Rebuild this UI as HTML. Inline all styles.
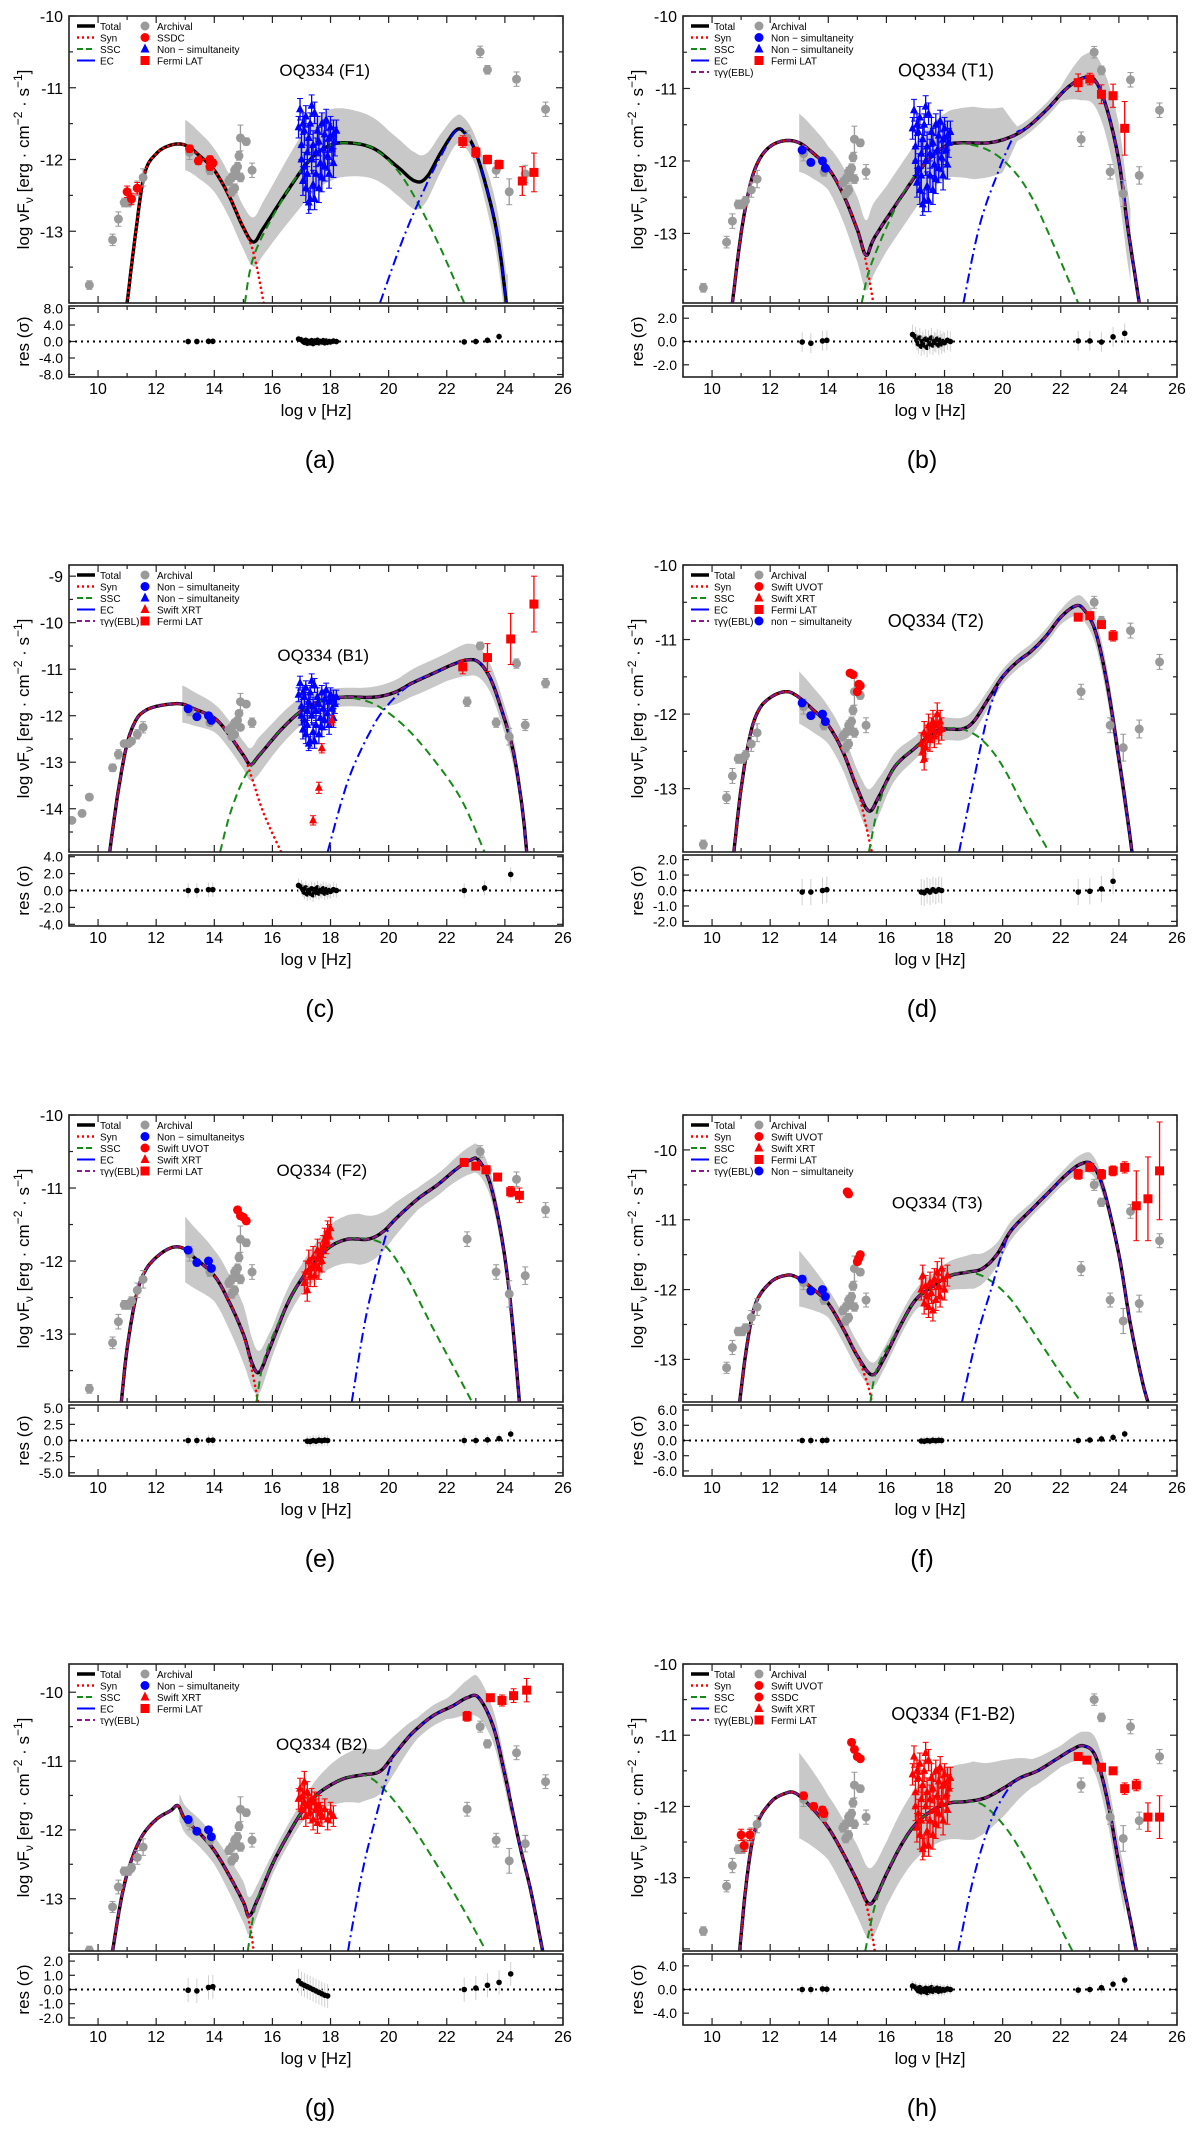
<!DOCTYPE html>
<html><head><meta charset="utf-8">
<style>
html,body{margin:0;padding:0;background:#fff;}
svg{display:block;}
text{font-family:"Liberation Sans",sans-serif;}
</style></head>
<body>
<svg id="fig" xmlns="http://www.w3.org/2000/svg" width="1200" height="2129" viewBox="0 0 1200 2129"></svg>
<script>
// ---------------- DATA ----------------
const archival = [[9.7,-13.75,0.06],[10.5,-13.12,0.08],[10.7,-12.83,0.1],[10.9,-12.6,0.06],[11.05,-12.6,0.06],[11.15,-12.55,0.06],[11.35,-12.4,0.1],[11.55,-12.25,0.12],[13.15,-11.9,0.1],[13.85,-12.15,0.06],[14.5,-12.3,0.06],[14.6,-12.45,0.06],[14.7,-12.4,0.06],[14.6,-12.25,0.06],[14.75,-12.2,0.08],[14.8,-12.1,0.06],[14.85,-11.95,0.06],[14.9,-11.7,0.18],[15.1,-11.75,0.05],[15.3,-12.15,0.1],[14.9,-12.25,0.06],[14.7,-12.15,0.06],[22.7,-11.7,0.1],[23.15,-10.5,0.08],[23.4,-10.75,0.06],[23.7,-12.15,0.1],[24.15,-12.45,0.18],[24.4,-10.88,0.1],[24.7,-12.2,0.12],[25.4,-11.3,0.1]];
const archivalLowC = [[9.1,-14.25,0.06],[9.45,-14.1,0.06]];
const blueCircles = [[13.1,-11.85,0.04],[13.4,-12.02,0.04],[13.8,-12.0,0.04],[13.9,-12.1,0.04]];
const blueXray = [[16.9,-11.55,0.15],[16.95,-11.3,0.15],[17.0,-11.8,0.2],[17.0,-12.0,0.2],[17.05,-12.3,0.2],[17.1,-11.6,0.2],[17.1,-12.1,0.2],[17.15,-11.4,0.15],[17.15,-12.4,0.2],[17.2,-11.9,0.2],[17.2,-12.2,0.2],[17.25,-11.7,0.2],[17.3,-12.55,0.15],[17.3,-11.5,0.15],[17.35,-12.0,0.2],[17.4,-11.8,0.2],[17.4,-12.35,0.2],[17.45,-11.35,0.15],[17.5,-11.9,0.2],[17.5,-12.2,0.2],[17.55,-11.6,0.2],[17.6,-12.4,0.2],[17.6,-11.75,0.2],[17.65,-12.05,0.2],[17.7,-11.5,0.15],[17.7,-12.25,0.2],[17.75,-11.85,0.2],[17.8,-11.65,0.2],[17.8,-12.1,0.2],[17.85,-11.45,0.15],[17.9,-11.95,0.2],[17.95,-11.7,0.2],[17.95,-12.2,0.2],[18.0,-11.55,0.15],[18.05,-11.85,0.2],[18.1,-11.65,0.2],[18.1,-12.05,0.2],[18.15,-11.75,0.2],[18.2,-11.6,0.15],[17.25,-12.6,0.15],[17.45,-12.55,0.15],[17.05,-11.5,0.15],[17.35,-11.25,0.15]];
const ssdcA = [[11.0,-12.45,0.08],[11.15,-12.55,0.08],[11.35,-12.4,0.08],[13.15,-11.85,0.05],[13.45,-12.02,0.05],[13.85,-12.0,0.05],[13.95,-12.05,0.05],[13.85,-12.1,0.05]];
const fermiA = [[22.55,-11.75,0.08],[23.0,-11.9,0.07],[23.4,-12.0,0.06],[23.8,-12.07,0.06],[24.6,-12.3,0.2],[25.0,-12.18,0.27]];
const fermiB = [[22.6,-10.92,0.12],[23.0,-10.87,0.08],[23.4,-11.08,0.13],[23.8,-11.1,0.16],[24.2,-11.55,0.37]];
const xrtC = [[17.4,-14.25,0.1],[17.6,-13.55,0.12],[17.7,-12.7,0.1],[18.05,-12.1,0.1]];
const fermiC = [[22.55,-10.95,0.15],[23.4,-10.75,0.3],[24.2,-10.35,0.55],[25.0,-9.6,0.6]];
const uvotD = [[14.75,-11.45,0.03],[14.85,-11.47,0.03],[15.05,-11.6,0.03],[15.1,-11.62,0.03],[15.0,-11.7,0.03]];
const xrtD = [[17.2,-12.4,0.15],[17.25,-12.5,0.15],[17.3,-12.25,0.15],[17.35,-12.45,0.15],[17.4,-12.3,0.15],[17.45,-12.15,0.15],[17.5,-12.35,0.15],[17.55,-12.2,0.15],[17.6,-12.1,0.15],[17.65,-12.3,0.15],[17.7,-12.15,0.15],[17.75,-12.0,0.15],[17.8,-12.25,0.15],[17.85,-12.1,0.15],[17.9,-12.2,0.15],[17.3,-12.6,0.15]];
const fermiD = [[22.6,-10.7,0.05],[23.0,-10.68,0.05],[23.4,-10.8,0.05],[23.8,-10.95,0.07]];
const uvotE = [[14.8,-11.3,0.03],[14.9,-11.38,0.03],[15.0,-11.4,0.03],[15.1,-11.45,0.03]];
const xrtE = [[17.1,-12.3,0.15],[17.15,-12.15,0.15],[17.2,-12.4,0.15],[17.25,-12.0,0.15],[17.3,-12.2,0.15],[17.35,-12.1,0.15],[17.4,-11.95,0.15],[17.45,-12.2,0.15],[17.5,-12.05,0.15],[17.55,-11.85,0.15],[17.6,-12.1,0.15],[17.65,-11.9,0.15],[17.7,-12.0,0.15],[17.75,-11.8,0.15],[17.8,-11.7,0.15],[17.85,-11.75,0.15],[17.9,-11.6,0.15],[17.95,-11.65,0.15],[18.0,-11.55,0.15]];
const fermiE = [[22.6,-10.65,0.05],[23.0,-10.7,0.05],[23.35,-10.75,0.05],[23.75,-10.85,0.05],[24.2,-11.05,0.07],[24.5,-11.1,0.1]];
const uvotF = [[14.65,-10.6,0.03],[14.7,-10.63,0.03],[15.0,-11.6,0.03],[15.05,-11.55,0.03],[15.1,-11.5,0.03]];
const xrtF = [[17.2,-12.0,0.15],[17.25,-11.8,0.15],[17.3,-12.2,0.15],[17.35,-11.95,0.15],[17.4,-12.1,0.15],[17.45,-12.25,0.15],[17.5,-11.9,0.15],[17.55,-12.05,0.15],[17.6,-12.3,0.15],[17.65,-11.85,0.15],[17.7,-12.15,0.15],[17.75,-11.75,0.15],[17.8,-11.95,0.15],[17.85,-12.1,0.15],[17.9,-11.7,0.15],[17.95,-11.85,0.15],[18.0,-12.0,0.15],[18.1,-11.8,0.15]];
const fermiF = [[22.6,-10.35,0.07],[23.0,-10.25,0.05],[23.4,-10.35,0.07],[23.8,-10.3,0.07],[24.2,-10.25,0.08],[24.6,-10.8,0.5],[25.0,-10.7,0.6],[25.4,-10.3,0.7]];
const xrtG = [[16.9,-11.55,0.15],[16.95,-11.4,0.15],[17.0,-11.7,0.15],[17.05,-11.5,0.15],[17.1,-11.6,0.15],[17.15,-11.8,0.15],[17.2,-11.45,0.15],[17.25,-11.65,0.15],[17.3,-11.75,0.15],[17.35,-11.55,0.15],[17.4,-11.85,0.15],[17.45,-11.6,0.15],[17.5,-11.7,0.15],[17.55,-11.9,0.15],[17.6,-11.65,0.15],[17.65,-11.75,0.15],[17.7,-11.8,0.15],[17.8,-11.7,0.15],[17.9,-11.85,0.15],[18.0,-11.75,0.15],[18.1,-11.8,0.15],[17.1,-11.3,0.15]];
const fermiG = [[22.7,-10.35,0.07],[23.5,-10.08,0.05],[23.9,-10.12,0.08],[24.3,-10.05,0.1],[24.75,-9.97,0.17]];
const uvotH = [[14.8,-11.1,0.04],[14.9,-11.2,0.04],[15.0,-11.3,0.04],[15.1,-11.33,0.04]];
const ssdcH = [[11.0,-12.4,0.08],[11.1,-12.55,0.08],[11.3,-12.4,0.08],[13.15,-11.85,0.05],[13.5,-12.0,0.05],[13.8,-12.05,0.05],[13.85,-12.1,0.05]];
const fermiH = [[22.6,-11.3,0.05],[22.9,-11.35,0.05],[23.4,-11.45,0.05],[23.8,-11.5,0.05],[24.2,-11.75,0.08],[24.6,-11.7,0.08],[25.0,-12.15,0.2],[25.4,-12.15,0.3]];

const totalA = [[11.0,-14],[11.3,-13.0],[11.6,-12.2],[12.0,-11.92],[12.5,-11.8],[13.0,-11.8],[13.5,-11.95],[14.0,-12.15],[14.5,-12.5],[15.0,-12.95],[15.35,-13.15],[15.7,-12.95],[16.5,-12.45],[17.3,-12.0],[18.0,-11.8],[18.7,-11.77],[19.5,-11.85],[20.3,-12.1],[20.9,-12.3],[21.3,-12.25],[21.8,-11.9],[22.3,-11.6],[22.6,-11.62],[23.0,-11.9],[23.5,-12.6],[23.8,-13.2],[24.05,-14]];
const totalB = [[10.7,-13.96],[11.0,-13.0],[11.3,-12.35],[11.6,-12.0],[12.0,-11.8],[12.5,-11.72],[13.0,-11.75],[13.5,-11.9],[14.0,-12.1],[14.5,-12.45],[15.0,-12.95],[15.3,-13.3],[15.6,-13.05],[16.5,-12.5],[17.3,-12.05],[18.0,-11.8],[18.5,-11.75],[19.5,-11.75],[20.2,-11.68],[20.8,-11.55],[21.5,-11.3],[22.2,-11.0],[22.8,-10.85],[23.2,-10.9],[23.6,-11.3],[24.0,-12.0],[24.3,-12.9],[24.7,-13.96]];
const totalC = [[10.4,-14.93],[10.7,-13.6],[11.0,-12.6],[11.3,-12.1],[11.6,-11.9],[12.0,-11.8],[12.5,-11.75],[12.9,-11.75],[13.3,-11.85],[14.0,-12.05],[14.5,-12.4],[15.0,-12.85],[15.25,-13.05],[15.55,-12.85],[16.3,-12.3],[17.0,-11.9],[17.8,-11.65],[18.5,-11.6],[19.5,-11.6],[20.2,-11.5],[20.8,-11.3],[21.5,-11.1],[22.2,-10.9],[22.7,-10.8],[23.1,-10.85],[23.5,-11.2],[23.9,-11.9],[24.3,-12.8],[24.6,-14.0],[24.75,-14.93]];
const totalD = [[10.75,-13.85],[11.0,-13.0],[11.3,-12.3],[11.6,-11.95],[12.0,-11.78],[12.5,-11.7],[12.9,-11.75],[13.5,-11.95],[14.0,-12.15],[14.5,-12.5],[15.0,-13.0],[15.4,-13.3],[15.75,-13.1],[16.3,-12.7],[17.0,-12.45],[17.6,-12.25],[18.0,-12.2],[18.6,-12.2],[19.0,-12.1],[19.5,-11.8],[20.0,-11.5],[20.5,-11.3],[21.0,-11.15],[21.5,-10.95],[22.0,-10.7],[22.5,-10.55],[22.8,-10.6],[23.2,-10.9],[23.6,-11.6],[24.0,-12.6],[24.3,-13.4],[24.45,-13.85]];
const totalE = [[10.8,-13.93],[11.0,-13.2],[11.3,-12.5],[11.6,-12.15],[12.0,-11.95],[12.5,-11.82],[12.9,-11.82],[13.3,-11.95],[14.0,-12.2],[14.5,-12.55],[15.0,-13.0],[15.3,-13.4],[15.55,-13.52],[15.9,-13.2],[16.5,-12.6],[17.0,-12.25],[17.5,-12.0],[18.0,-11.8],[18.6,-11.7],[19.3,-11.7],[19.8,-11.6],[20.3,-11.4],[21.0,-11.15],[21.7,-10.95],[22.3,-10.75],[22.8,-10.62],[23.1,-10.62],[23.5,-10.95],[23.9,-11.7],[24.2,-12.6],[24.5,-13.93]];
const totalF = [[10.95,-13.61],[11.2,-12.8],[11.5,-12.2],[12.0,-11.9],[12.5,-11.8],[12.9,-11.82],[13.5,-12.0],[14.0,-12.2],[14.5,-12.55],[15.0,-12.95],[15.5,-13.22],[15.9,-13.0],[16.5,-12.5],[17.0,-12.15],[17.6,-11.95],[18.2,-11.8],[18.8,-11.75],[19.3,-11.7],[19.8,-11.5],[20.3,-11.15],[21.0,-10.85],[21.6,-10.6],[22.2,-10.35],[22.7,-10.2],[23.1,-10.22],[23.5,-10.6],[24.0,-11.5],[24.4,-12.5],[24.8,-13.3],[25.0,-13.61]];
const totalG = [[10.5,-13.76],[10.8,-13.0],[11.1,-12.5],[11.5,-12.1],[12.0,-11.85],[12.5,-11.72],[12.75,-11.65],[13.0,-11.85],[13.5,-12.05],[14.0,-12.3],[14.5,-12.65],[15.0,-13.05],[15.2,-13.25],[15.5,-13.0],[16.0,-12.5],[16.5,-12.1],[17.0,-11.75],[17.5,-11.5],[18.0,-11.35],[18.5,-11.25],[19.1,-11.2],[19.7,-11.15],[20.2,-10.9],[20.8,-10.6],[21.5,-10.35],[22.2,-10.2],[22.7,-10.08],[23.1,-10.08],[23.6,-10.5],[24.0,-11.2],[24.5,-12.2],[24.9,-12.9],[25.3,-13.76]];
const totalH = [[10.95,-14.03],[11.2,-13.0],[11.5,-12.3],[12.0,-11.95],[12.5,-11.82],[12.9,-11.82],[13.5,-12.05],[14.0,-12.3],[14.5,-12.65],[15.0,-13.05],[15.35,-13.35],[15.6,-13.3],[16.0,-12.95],[16.5,-12.55],[17.0,-12.25],[17.6,-12.05],[18.2,-11.95],[18.8,-11.93],[19.4,-11.88],[20.0,-11.75],[20.6,-11.6],[21.2,-11.5],[21.8,-11.35],[22.4,-11.2],[22.8,-11.15],[23.2,-11.3],[23.6,-11.9],[24.0,-12.8],[24.4,-13.6],[24.6,-14.03]];

const synTailA=[[15.35,-13.3],[15.7,-14]], sscHeadA=[[15.05,-14],[15.4,-13.3]], sscTailA=[[20.3,-12.15],[21.0,-12.6],[21.8,-13.25],[22.6,-14]], ecHeadA=[[19.7,-14],[20.5,-13.1],[21.3,-12.35],[21.8,-11.95]];
const synTailB=[[15.3,-13.4],[15.55,-13.96]], sscHeadB=[[15.15,-13.96],[15.5,-13.4]], sscTailB=[[19.5,-11.85],[20.3,-12.1],[21.0,-12.5],[21.8,-13.2],[22.6,-13.96]], ecHeadB=[[18.65,-13.96],[19.2,-12.9],[19.8,-12.2],[20.4,-11.65]];
const synTailC=[[15.3,-13.35],[15.7,-14.1],[16.3,-14.93]], sscHeadC=[[14.2,-14.93],[14.6,-14.0],[15.2,-13.15]], sscTailC=[[19.5,-11.75],[20.5,-12.2],[21.5,-12.9],[22.5,-13.8],[23.3,-14.93]], ecHeadC=[[17.9,-14.93],[18.6,-13.4],[19.4,-12.3],[20.0,-11.75]];
const synTailD=[[15.3,-13.5],[15.5,-13.85]], sscHeadD=[[15.4,-13.85],[15.75,-13.2]], sscTailD=[[19.3,-12.35],[20.0,-12.7],[20.8,-13.3],[21.6,-13.85]], ecHeadD=[[18.5,-13.85],[19.0,-12.9],[19.5,-12.0]];
const synTailE=[[15.35,-13.6],[15.5,-13.93]], sscHeadE=[[15.45,-13.93],[15.75,-13.3]], sscTailE=[[19.9,-11.8],[20.6,-12.2],[21.5,-12.9],[22.3,-13.5],[22.87,-13.93]], ecHeadE=[[18.73,-13.93],[19.2,-12.8],[19.7,-11.95],[20.0,-11.55]];
const synTailF=[[15.35,-13.35],[15.5,-13.61]], sscHeadF=[[15.45,-13.61],[15.7,-13.1]], sscTailF=[[19.5,-11.85],[20.3,-12.15],[21.2,-12.7],[22.0,-13.2],[22.7,-13.61]], ecHeadF=[[18.6,-13.61],[19.1,-12.7],[19.6,-12.0],[20.0,-11.45]];
const synTailG=[[15.25,-13.45],[15.35,-13.76]], sscHeadG=[[15.15,-13.76],[15.45,-13.05]], sscTailG=[[19.7,-11.35],[20.5,-11.75],[21.5,-12.4],[22.5,-13.1],[23.35,-13.76]], ecHeadG=[[18.6,-13.76],[19.1,-12.6],[19.6,-11.75],[20.0,-11.15]];
const synTailH=[[15.35,-13.45],[15.6,-14.03]], sscHeadH=[[15.27,-14.03],[15.6,-13.4]], sscTailH=[[19.4,-12.0],[20.2,-12.35],[21.0,-12.9],[21.8,-13.55],[22.4,-14.03]], ecHeadH=[[18.47,-14.03],[19.0,-13.0],[19.6,-12.2],[20.2,-11.75]];

const bandA=[[13,0.35],[14,0.3],[15,0.3],[15.4,0.35],[16,0.4],[17,0.5],[18,0.5],[19,0.45],[20,0.4],[20.9,0.4],[21.5,0.3],[22.3,0.2],[23,0.2],[24,0.4],[24.1,0.4]];
const bandB=[[13,0.4],[14,0.3],[15,0.45],[15.5,0.5],[16,0.45],[17,0.45],[18,0.45],[19,0.5],[20,0.45],[20.5,0.1],[21,0.1],[22,0.1],[22.7,0.3],[23.5,0.4],[24,0.5],[24.4,0.5]];
const bandC=[[12.9,0.4],[14,0.3],[15,0.3],[15.5,0.4],[16,0.35],[17,0.3],[18,0.2],[19,0.2],[20,0.25],[21,0.3],[22,0.3],[22.7,0.35],[23.5,0.3],[24,0.3],[24.4,0.3]];
const bandD=[[13,0.35],[14,0.25],[15,0.25],[15.5,0.3],[16,0.2],[17,0.15],[18,0.15],[19,0.15],[20,0.1],[21,0.1],[22,0.1],[22.8,0.15],[23.5,0.2],[24,0.2],[24.3,0.2]];
const bandE=[[13,0.45],[14,0.35],[15,0.4],[15.5,0.3],[16,0.2],[17,0.2],[18,0.3],[19,0.35],[20,0.25],[21,0.15],[22,0.15],[23,0.2],[24,0.15],[24.4,0.15]];
const bandF=[[13,0.4],[14,0.2],[15,0.2],[16,0.15],[17,0.15],[18,0.2],[19,0.25],[20,0.15],[21,0.1],[22,0.1],[23,0.15],[24,0.1],[24.2,0.1]];
const bandG=[[12.8,0.2],[14,0.2],[15,0.3],[16,0.15],[17,0.15],[18,0.3],[19,0.4],[20,0.3],[21,0.15],[22,0.15],[23,0.3],[24,0.2],[24.2,0.2]];
const bandH=[[13,0.6],[14,0.45],[15,0.5],[15.5,0.5],[16,0.45],[17,0.5],[18,0.5],[19,0.55],[20,0.4],[21,0.2],[22,0.15],[22.8,0.2],[23.5,0.3],[24,0.3],[24.2,0.3]];

const resCluster = [[16.9,0.6],[17.0,0.4],[17.05,0.1],[17.1,-0.2],[17.15,0.3],[17.2,-0.4],[17.25,0.0],[17.3,-0.3],[17.35,0.2],[17.4,-0.5],[17.45,0.1],[17.5,-0.2],[17.55,0.3],[17.6,-0.3],[17.65,0.0],[17.7,-0.1],[17.75,0.2],[17.8,-0.3],[17.85,0.1],[17.9,-0.2],[17.95,0.0],[18.0,-0.1],[18.1,0.1],[18.2,0.0]];
const resXrtSmall = [[17.2,-0.1],[17.3,-0.15],[17.4,0],[17.5,-0.1],[17.6,0.05],[17.7,-0.05],[17.8,0.05],[17.9,0]];
const resXrtG = [[16.9,0.6],[17.0,0.4],[17.1,0.3],[17.2,0.2],[17.3,0.1],[17.4,0.0],[17.5,-0.1],[17.6,-0.2],[17.7,-0.3],[17.8,-0.4],[17.9,-0.45]];
const resA=[[13.1,0],[13.4,0],[13.8,0.05],[13.95,0.05],[22.6,-0.1],[23.0,0],[23.4,0.3],[23.8,1.2]];
const resB=[[13.1,-0.05],[13.4,-0.15],[13.8,0.05],[13.95,0.1],[22.6,0.05],[23.0,0.05],[23.4,-0.05],[23.8,0.4],[24.2,0.7]];
const resC=[[13.1,0],[13.4,0],[13.8,0.1],[13.95,0.1],[22.6,0.0],[23.3,0.3],[24.2,1.9]];
const resD=[[13.1,-0.1],[13.4,-0.1],[13.8,0.0],[13.95,0.05],[22.6,-0.1],[23.0,-0.05],[23.4,0.1],[23.8,0.6]];
const resE=[[13.1,0],[13.4,0],[13.8,0.05],[13.95,0.05],[22.6,0],[23.0,0],[23.4,0.1],[23.8,0.3],[24.2,1.0]];
const resF=[[13.1,0],[13.4,0],[13.8,0],[13.95,0.05],[22.6,0],[23.0,0.1],[23.4,0.3],[23.8,0.6],[24.2,1.3]];
const resG=[[13.1,-0.05],[13.4,-0.1],[13.8,0.15],[13.95,0.2],[22.6,0],[23.0,0.1],[23.4,0.3],[23.8,0.5],[24.2,1.1]];
const resH=[[13.1,0],[13.4,0],[13.8,0.1],[13.95,0.05],[22.6,-0.1],[23.0,0],[23.4,0.3],[23.8,0.9],[24.2,1.6]];

const xTickLabels = [10,12,14,16,18,20,22,24,26];

// ---------------- RENDER ----------------
const NS="http://www.w3.org/2000/svg";
const svg=document.getElementById('fig');
function el(tag,attrs,parent){const e=document.createElementNS(NS,tag);for(const k in attrs)e.setAttribute(k,attrs[k]);(parent||svg).appendChild(e);return e;}
function spline(k){const out=[];if(k.length<2)return k.slice();for(let i=0;i<k.length-1;i++){const p0=k[i-1]||k[i],p1=k[i],p2=k[i+1],p3=k[i+2]||k[i+1];for(let s=0;s<12;s++){const t=s/12,t2=t*t,t3=t2*t;const f=(a,b,c,d)=>0.5*((2*b)+(-a+c)*t+(2*a-5*b+4*c-d)*t2+(-a+3*b-3*c+d)*t3);out.push([f(p0[0],p1[0],p2[0],p3[0]),f(p0[1],p1[1],p2[1],p3[1])]);}}out.push(k[k.length-1]);return out;}
function interp(arr,x){if(x<=arr[0][0])return arr[0][1];for(let i=0;i<arr.length-1;i++){if(x>=arr[i][0]&&x<=arr[i+1][0]){const t=(x-arr[i][0])/((arr[i+1][0]-arr[i][0])||1);return arr[i][1]+t*(arr[i+1][1]-arr[i][1]);}}return arr[arr.length-1][1];}

const panels=[
 {id:'a',col:0,row:0,ymin:-14,ymax:-10,rmax:8.6,rt:[8,4,0,-4,-8],title:'OQ334 (F1)',tx:17.8,ty:-10.75,serif:true,ebl:false,total:totalA,synCut:15.0,synTail:synTailA,sscHead:sscHeadA,sscMid:[16.5,19.5],sscTail:sscTailA,ecHead:ecHeadA,ecCut:22.3,band:bandA,
  series:[{d:archival,s:'c',c:'#9a9a9a',l:'Archival'},{d:ssdcA,s:'c',c:'#ff0000',l:'SSDC'},{d:blueXray,s:'t',c:'#0000ff',l:'Non \u2212 simultaneity'},{d:fermiA,s:'s',c:'#ff0000',l:'Fermi LAT'}],res:[resA,resCluster]},
 {id:'b',col:1,row:0,ymin:-13.96,ymax:-10,rmax:3.05,rt:[2,0,-2],title:'OQ334 (T1)',tx:18.05,ty:-10.75,serif:false,ebl:true,total:totalB,synCut:15.0,synTail:synTailB,sscHead:sscHeadB,sscMid:[16.5,18.5],sscTail:sscTailB,ecHead:ecHeadB,ecCut:20.8,band:bandB,
  series:[{d:archival,s:'c',c:'#9a9a9a',l:'Archival'},{d:blueCircles,s:'c',c:'#0000ff',l:'Non \u2212 simultaneity'},{d:blueXray,s:'t',c:'#0000ff',l:'Non \u2212 simultaneity'},{d:fermiB,s:'s',c:'#ff0000',l:'Fermi LAT'}],res:[resB,resCluster]},
 {id:'c',col:0,row:1,ymin:-14.93,ymax:-8.76,rmax:4.2,rt:[4,2,0,-2,-4],title:'OQ334 (B1)',tx:17.75,ty:-10.7,serif:true,ebl:true,total:totalC,synCut:15.0,synTail:synTailC,sscHead:sscHeadC,sscMid:[16.3,18.5],sscTail:sscTailC,ecHead:ecHeadC,ecCut:20.8,band:bandC,
  series:[{d:archival.concat(archivalLowC),s:'c',c:'#9a9a9a',l:'Archival'},{d:blueCircles,s:'c',c:'#0000ff',l:'Non \u2212 simultaneity'},{d:blueXray,s:'t',c:'#0000ff',l:'Non \u2212 simultaneity'},{d:xrtC,s:'t',c:'#ff0000',l:'Swift XRT'},{d:fermiC,s:'s',c:'#ff0000',l:'Fermi LAT'}],res:[resC,resCluster]},
 {id:'d',col:1,row:1,ymin:-13.85,ymax:-10,rmax:2.3,rt:[2,1,0,-1,-2],title:'OQ334 (T2)',tx:17.7,ty:-10.75,serif:false,ebl:true,total:totalD,synCut:15.0,synTail:synTailD,sscHead:sscHeadD,sscMid:[16.3,18.6],sscTail:sscTailD,ecHead:ecHeadD,ecCut:20.0,band:bandD,
  series:[{d:archival,s:'c',c:'#9a9a9a',l:'Archival'},{d:uvotD,s:'c',c:'#ff0000',l:'Swift UVOT'},{d:xrtD,s:'t',c:'#ff0000',l:'Swift XRT'},{d:fermiD,s:'s',c:'#ff0000',l:'Fermi LAT'},{d:blueCircles,s:'c',c:'#0000ff',l:'non \u2212 simultaneity'}],res:[resD,resXrtSmall]},
 {id:'e',col:0,row:2,ymin:-13.93,ymax:-10,rmax:5.5,rt:[5,2.5,0,-2.5,-5],title:'OQ334 (F2)',tx:17.7,ty:-10.75,serif:true,ebl:true,total:totalE,synCut:15.0,synTail:synTailE,sscHead:sscHeadE,sscMid:[16.5,19.3],sscTail:sscTailE,ecHead:ecHeadE,ecCut:20.3,band:bandE,
  series:[{d:archival,s:'c',c:'#9a9a9a',l:'Archival'},{d:blueCircles,s:'c',c:'#0000ff',l:'Non \u2212 simultaneitys'},{d:uvotE,s:'c',c:'#ff0000',l:'Swift UVOT'},{d:xrtE,s:'t',c:'#ff0000',l:'Swift XRT'},{d:fermiE,s:'s',c:'#ff0000',l:'Fermi LAT'}],res:[resE,resXrtSmall]},
 {id:'f',col:1,row:2,ymin:-13.61,ymax:-9.5,rmax:7,rt:[6,3,0,-3,-6],title:'OQ334 (T3)',tx:17.75,ty:-10.75,serif:true,ebl:true,total:totalF,synCut:15.0,synTail:synTailF,sscHead:sscHeadF,sscMid:[16.5,18.8],sscTail:sscTailF,ecHead:ecHeadF,ecCut:20.3,band:bandF,
  series:[{d:archival,s:'c',c:'#9a9a9a',l:'Archival'},{d:uvotF,s:'c',c:'#ff0000',l:'Swift UVOT'},{d:xrtF,s:'t',c:'#ff0000',l:'Swift XRT'},{d:fermiF,s:'s',c:'#ff0000',l:'Fermi LAT'},{d:blueCircles,s:'c',c:'#0000ff',l:'Non \u2212 simultaneity'}],res:[resF,resXrtSmall]},
 {id:'g',col:0,row:3,ymin:-13.76,ymax:-9.59,rmax:2.5,rt:[2,1,0,-1,-2],title:'OQ334 (B2)',tx:17.7,ty:-10.75,serif:true,ebl:true,total:totalG,synCut:15.0,synTail:synTailG,sscHead:sscHeadG,sscMid:[16.0,19.1],sscTail:sscTailG,ecHead:ecHeadG,ecCut:20.2,band:bandG,
  series:[{d:archival,s:'c',c:'#9a9a9a',l:'Archival'},{d:blueCircles,s:'c',c:'#0000ff',l:'Non \u2212 simultaneity'},{d:xrtG,s:'t',c:'#ff0000',l:'Swift XRT'},{d:fermiG,s:'s',c:'#ff0000',l:'Fermi LAT'}],res:[resG,resXrtG]},
 {id:'h',col:1,row:3,ymin:-14.03,ymax:-10,rmax:6,rt:[4,0,-4],title:'OQ334 (F1-B2)',tx:18.3,ty:-10.7,serif:false,ebl:true,total:totalH,synCut:15.0,synTail:synTailH,sscHead:sscHeadH,sscMid:[16.0,18.8],sscTail:sscTailH,ecHead:ecHeadH,ecCut:20.6,band:bandH,
  series:[{d:archival,s:'c',c:'#9a9a9a',l:'Archival'},{d:uvotH,s:'c',c:'#ff0000',l:'Swift UVOT'},{d:ssdcH,s:'c',c:'#ff0000',l:'SSDC'},{d:blueXray,s:'t',c:'#ff0000',l:'Swift XRT'},{d:fermiH,s:'s',c:'#ff0000',l:'Fermi LAT'}],res:[resH,resCluster]}
];

const COLX=[69,683], ROWY=[16,565,1115,1664], PW=494, MH=287, RT=290, RB=361;

function marker(g,shape,color,px,py,r){
  if(shape==='c') return el('circle',{cx:px,cy:py,r:r,fill:color},g);
  if(shape==='s') return el('rect',{x:px-r,y:py-r,width:2*r,height:2*r,fill:color},g);
  return el('polygon',{points:`${px},${py-r-1} ${px-r},${py+r-1} ${px+r},${py+r-1}`,fill:color},g);
}

panels.forEach(P=>{
  const x0=COLX[P.col], T=ROWY[P.row], x1=x0+PW, yb=T+MH;
  const X=v=>x0+(v-9)/17*PW;
  const Y=v=>T+(P.ymax-v)/(P.ymax-P.ymin)*MH;
  const RY=v=>T+RT+(P.rmax-v)/(2*P.rmax)*(RB-RT);
  const g=el('g',{});
  
  
  const cid='clip'+P.id;
  const cp=el('clipPath',{id:cid},g); el('rect',{x:x0,y:T,width:PW,height:MH},cp);
  const rc=el('clipPath',{id:cid+'r'},g); el('rect',{x:x0,y:T+RT,width:PW,height:RB-RT},rc);
  const pg=el('g',{'clip-path':`url(#${cid})`},g);
  const td=spline(P.total);
  const bs=P.band[0][0], be=P.band[P.band.length-1][0];
  let up=[],lo=[];
  for(let x=bs;x<=be+1e-6;x+=0.05){const yc=interp(td,x),w=interp(P.band,x);up.push(`${X(x).toFixed(1)},${Y(yc+w).toFixed(1)}`);lo.unshift(`${X(x).toFixed(1)},${Y(yc-w).toFixed(1)}`);}
  const band=el('polygon',{points:up.concat(lo).join(' '),fill:'#c8c8c8'},pg);
  
  
  const path=(k)=>spline(k).map((p,i)=>(i?'L':'M')+X(p[0]).toFixed(1)+','+Y(p[1]).toFixed(1)).join('');
  const synK=P.total.filter(k=>k[0]<=P.synCut).concat(P.synTail);
  const sscK=P.sscHead.concat(P.total.filter(k=>k[0]>=P.sscMid[0]&&k[0]<=P.sscMid[1])).concat(P.sscTail);
  const ecK=P.ecHead.concat(P.total.filter(k=>k[0]>=P.ecCut));
  const tl=el('path',{d:path(P.total),fill:'none',stroke:'#000','stroke-width':3.4},pg);
  
  
  const sy=el('path',{d:path(synK),fill:'none',stroke:'#ff0000','stroke-width':2.6,'stroke-dasharray':'0.1,5','stroke-linecap':'round'},pg);
  
  
  const ss=el('path',{d:path(sscK),fill:'none',stroke:'#168a16','stroke-width':2,'stroke-dasharray':'8,5'},pg);
  
  
  const ec=el('path',{d:path(ecK),fill:'none',stroke:'#0000ff','stroke-width':2,'stroke-dasharray':'10,4,2,4'},pg);
  
  
  if(P.ebl){const eb=el('path',{d:path(P.total),fill:'none',stroke:'#8b1a8b','stroke-width':2.2,'stroke-dasharray':'6,3'},pg);
    
    }
  P.series.forEach((S,si)=>{
    const sg=el('g',{},pg);
    
    
    S.d.forEach(p=>{
      const px=X(p[0]),py=Y(p[1]),e=p[2]||0.05;
      el('line',{x1:px,x2:px,y1:Y(p[1]+e),y2:Y(p[1]-e),stroke:S.c,'stroke-width':1.3},sg);
      el('line',{x1:px-3,x2:px+3,y1:Y(p[1]+e),y2:Y(p[1]+e),stroke:S.c,'stroke-width':1},sg);
      el('line',{x1:px-3,x2:px+3,y1:Y(p[1]-e),y2:Y(p[1]-e),stroke:S.c,'stroke-width':1},sg);
      const m=marker(sg,S.s,S.c,px,py,S.s==='s'?4.5:(S.s==='t'?4:4.5));
      
      
    });
  });
  const fr=el('rect',{x:x0,y:T,width:PW,height:MH,fill:'none',stroke:'#222','stroke-width':1.6},g);
  
  
  const rf=el('rect',{x:x0,y:T+RT,width:PW,height:RB-RT,fill:'none',stroke:'#222','stroke-width':1.6},g);
  
  
  for(let v=9;v<=26;v++){const px=X(v),L=(v%2===0)?7:4;
    [[T,T+L],[yb,yb-L],[T+RT,T+RT+L],[T+RB,T+RB-L]].forEach(a=>el('line',{x1:px,x2:px,y1:a[0],y2:a[1],stroke:'#222','stroke-width':1.2},g));}
  xTickLabels.forEach(v=>{const t=el('text',{x:X(v),y:T+378,'font-size':16,'text-anchor':'middle'},g);t.textContent=v;
    
    });
  for(let v=Math.ceil(P.ymin*2)/2;v<=P.ymax+1e-6;v+=0.5){const py=Y(v),L=Number.isInteger(v)?7:4;
    el('line',{x1:x0,x2:x0+L,y1:py,y2:py,stroke:'#222','stroke-width':1.2},g);
    el('line',{x1:x1,x2:x1-L,y1:py,y2:py,stroke:'#222','stroke-width':1.2},g);
    if(Number.isInteger(v)&&py<yb-4){const t=el('text',{x:x0-6,y:py+6,'font-size':16,'text-anchor':'end'},g);t.textContent=String(v);
      
      }}
  P.rt.forEach(v=>{const py=RY(v);
    el('line',{x1:x0,x2:x0+6,y1:py,y2:py,stroke:'#222','stroke-width':1.2},g);
    el('line',{x1:x1,x2:x1-6,y1:py,y2:py,stroke:'#222','stroke-width':1.2},g);
    const t=el('text',{x:x0-6,y:py+5,'font-size':14,'text-anchor':'end'},g);t.textContent=v.toFixed(1);
    
    });
  const rg=el('g',{'clip-path':`url(#${cid}r)`},g);
  el('line',{x1:x0,x2:x1,y1:RY(0),y2:RY(0),stroke:'#000','stroke-width':2,'stroke-dasharray':'2,4'},rg);
  P.res.forEach(arr=>arr.forEach(p=>{const px=X(p[0]),py=RY(p[1]);
    el('line',{x1:px,x2:px,y1:RY(p[1]+0.85),y2:RY(p[1]-0.85),stroke:'#d0d0d0','stroke-width':1},rg);
    const c=el('circle',{cx:px,cy:py,r:2.8,fill:'#000'},rg);
    
    }));
  const yl=el('text',{x:0,y:0,'font-size':17,'text-anchor':'middle',transform:`translate(${x0-40},${T+MH/2}) rotate(-90)`},g);
  yl.innerHTML='log \u03BDF<tspan font-size="12" dy="4">\u03BD</tspan><tspan dy="-4"> [erg \u00B7 cm</tspan><tspan font-size="12" dy="-7">\u22122</tspan><tspan dy="7"> \u00B7 s</tspan><tspan font-size="12" dy="-7">\u22121</tspan><tspan dy="7">]</tspan>';
  
  
  const rl=el('text',{x:0,y:0,'font-size':17,'text-anchor':'middle',transform:`translate(${x0-40},${T+(RT+RB)/2}) rotate(-90)`},g);
  rl.textContent='res (\u03C3)';
  
  
  const xl=el('text',{x:x0+PW/2,y:T+400,'font-size':17,'text-anchor':'middle'},g);
  xl.textContent='log \u03BD [Hz]';
  
  
  const tt=el('text',{x:X(P.tx),y:Y(P.ty)+6,'font-size':P.serif?17:18,'text-anchor':'middle','font-family':P.serif?'Liberation Serif, serif':'Liberation Sans, sans-serif'},g);
  tt.textContent=P.title;
  
  
  const pl=el('text',{x:x0+PW/2+(P.col===0?4:-8),y:T+452,'font-size':25,'text-anchor':'middle','font-family':'Liberation Serif, serif'},g);
  pl.textContent='('+P.id+')';
  
  
  const lg=el('g',{},g);
  
  
  const lines=[['Total','#000','',3.4],['Syn','#ff0000','2,3',2.5],['SSC','#168a16','6,3',2],['EC','#0000ff','',2]];
  if(P.ebl)lines.push(['\u03C4\u03B3\u03B3(EBL)','#8b1a8b','5,3',2]);
  lines.forEach((L,i)=>{const ly=T+10+i*11.5;
    el('line',{x1:x0+8,x2:x0+26,y1:ly,y2:ly,stroke:L[1],'stroke-width':L[3],'stroke-dasharray':L[2]},lg);
    const t=el('text',{x:x0+31,y:ly+4,'font-size':10},lg);t.textContent=L[0];
    
    });
  P.series.forEach((S,i)=>{const ly=T+10+i*11.5;
    marker(lg,S.s,S.c,x0+76,ly,4.5);
    const t=el('text',{x:x0+88,y:ly+4,'font-size':10},lg);t.textContent=S.l;
    
    });
});
</script>
</body></html>
